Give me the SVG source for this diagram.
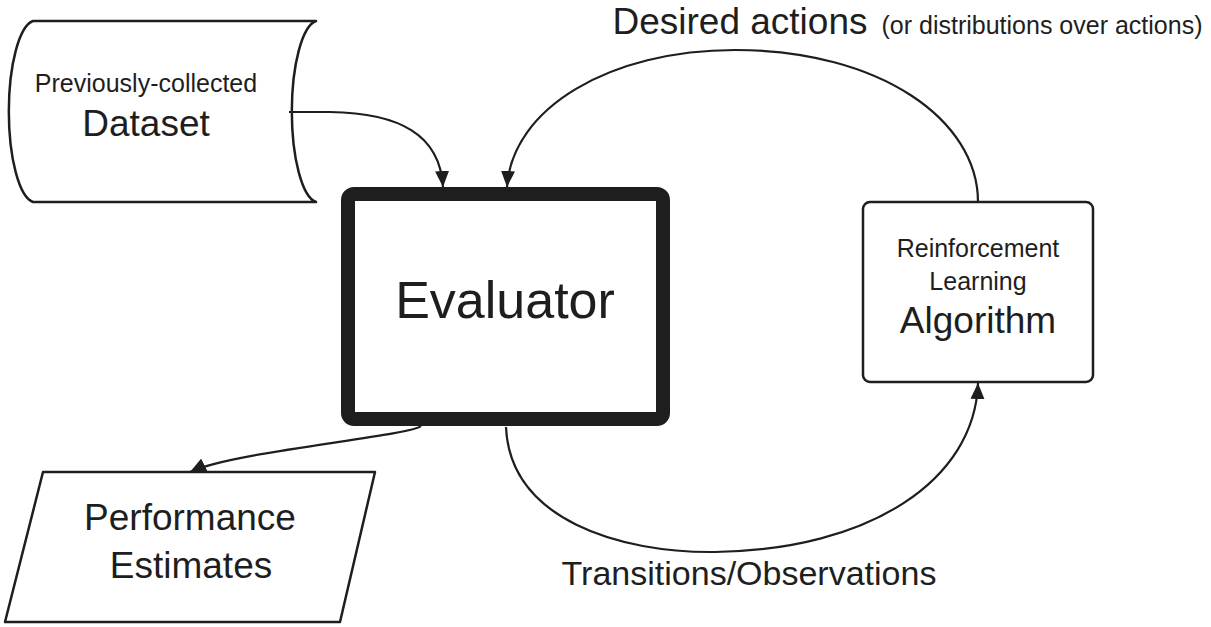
<svg xmlns="http://www.w3.org/2000/svg" width="1211" height="627" viewBox="0 0 1211 627">
<style>
  .t { font-family: "Liberation Sans", Arial, sans-serif; fill: #1e1e1e; text-anchor: middle; }
  .shape { fill: #fff; stroke: #1e1e1e; stroke-width: 2.5; stroke-linejoin: round; }
  .conn { fill: none; stroke: #1e1e1e; stroke-width: 2.2; }
</style>
<defs>
  <marker id="arrow" viewBox="0 0 16 14" refX="16" refY="7" markerWidth="16" markerHeight="14" markerUnits="userSpaceOnUse" orient="auto">
    <path d="M0,0 L16,7 L0,14 z" fill="#1e1e1e"/>
  </marker>
</defs>
<rect width="1211" height="627" fill="#fff"/>

<g id="dataset">
  <path class="shape" d="M 33 21 L 316 21 A 27 91 0 0 0 316 202 L 33 202 A 27 91 0 0 1 33 21 Z"/>
  <text class="t" x="146" y="92" font-size="25">Previously-collected</text>
  <text class="t" x="146" y="136" font-size="37">Dataset</text>
</g>

<g id="evaluator">
  <rect x="348" y="194" width="315" height="225" rx="6" fill="#fff" stroke="#1e1e1e" stroke-width="14"/>
  <text class="t" x="505" y="318" font-size="52">Evaluator</text>
</g>

<g id="rl-algorithm">
  <rect class="shape" x="863" y="202" width="230" height="180" rx="7"/>
  <text class="t" x="978" y="257" font-size="25">Reinforcement</text>
  <text class="t" x="978" y="290" font-size="25">Learning</text>
  <text class="t" x="978" y="333" font-size="37">Algorithm</text>
</g>

<g id="performance">
  <path class="shape" d="M 43 472 L 375 472 L 340 622 L 5 622 Z"/>
  <text class="t" x="190" y="530" font-size="37">Performance</text>
  <text class="t" x="191" y="578" font-size="37">Estimates</text>
</g>

<g id="connectors">
  <path class="conn" d="M 289 112 L 330 112 C 400 113 440 135 443 187" marker-end="url(#arrow)"/>
  <path class="conn" d="M 978 202 C 978 120 880 50 735 50 C 610 50 512 108 507 187" marker-end="url(#arrow)"/>
  <path class="conn" d="M 506 427 C 510 520 620 553 715 552 C 870 550 975 480 978 383" marker-end="url(#arrow)"/>
  <path class="conn" d="M 421 426 C 410 436 230 452 190 472" marker-end="url(#arrow)"/>
</g>

<g id="labels">
  <text class="t" x="740" y="34" font-size="37">Desired actions</text>
  <text class="t" x="1042" y="34" font-size="25">(or distributions over actions)</text>
  <text class="t" x="749" y="585" font-size="34">Transitions/Observations</text>
</g>
</svg>
